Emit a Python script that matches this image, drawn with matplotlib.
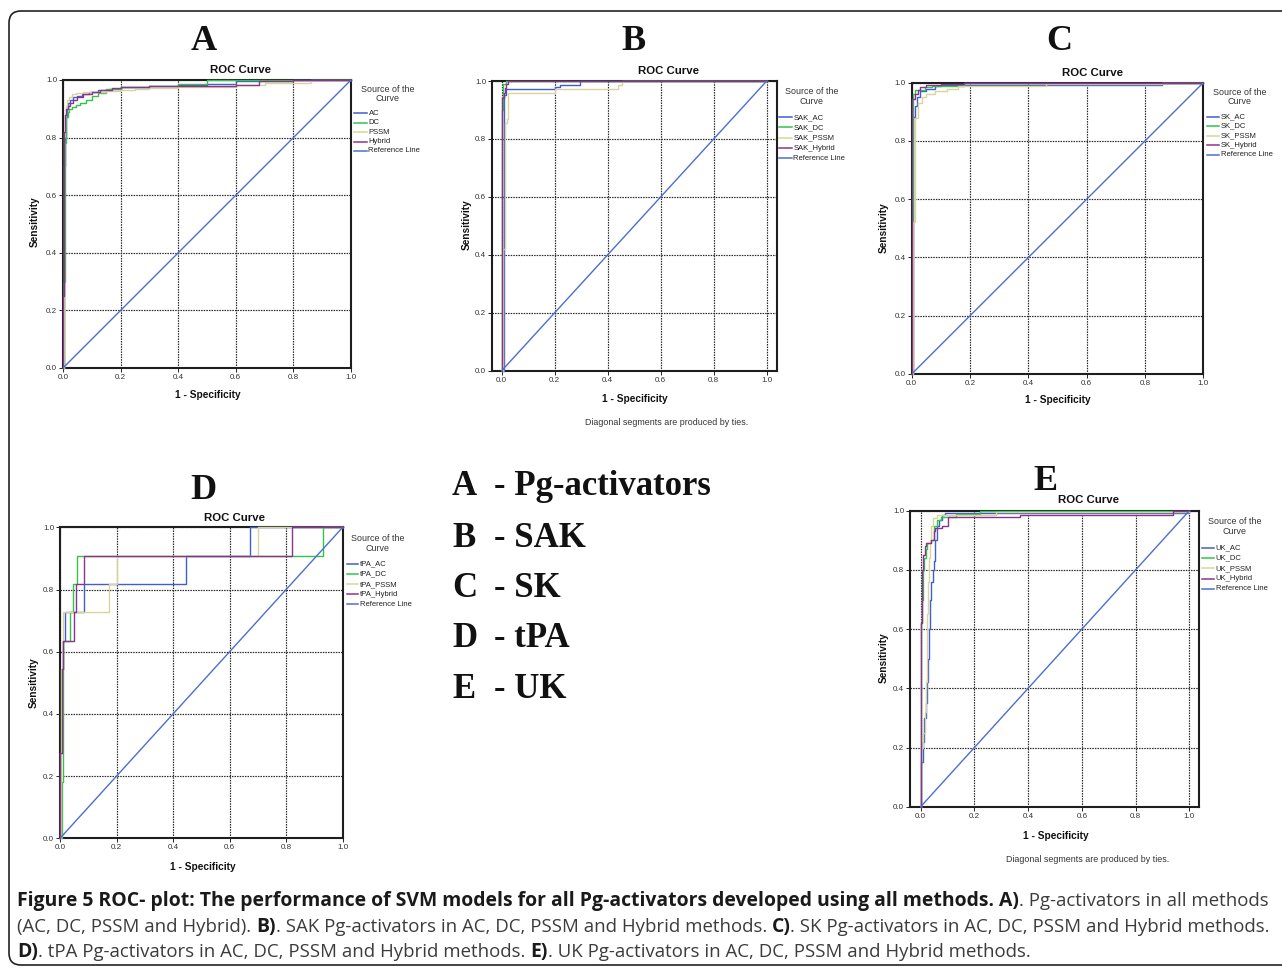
import matplotlib
matplotlib.use("Agg")
import numpy as np
import matplotlib.pyplot as plt
from matplotlib.patches import FancyBboxPatch
from matplotlib.lines import Line2D
from matplotlib.ticker import FormatStrFormatter

W, H, DPI = 1282, 969, 100

# ---------------- ROC operating points (1 - specificity, sensitivity) ----------------
# Panel A: all Pg-activators
a_ac_fpr = [0, 0.002, 0.004, 0.006, 0.009, 0.013, 0.019, 0.026, 0.035, 0.048, 0.065, 0.09, 0.12, 0.16, 0.2, 0.3, 0.4, 0.5, 0.6, 0.8, 1.0]
a_ac_tpr = [0, 0.35, 0.7, 0.8, 0.87, 0.9, 0.92, 0.93, 0.94, 0.945, 0.95, 0.957, 0.964, 0.97, 0.976, 0.979, 0.983, 0.987, 0.995, 1.0, 1.0]
a_dc_fpr = [0, 0.004, 0.007, 0.009, 0.012, 0.016, 0.022, 0.03, 0.045, 0.06, 0.08, 0.1, 0.12, 0.15, 0.2, 0.3, 0.4, 0.5, 1.0]
a_dc_tpr = [0, 0.3, 0.78, 0.83, 0.87, 0.89, 0.9, 0.905, 0.912, 0.92, 0.93, 0.945, 0.956, 0.968, 0.976, 0.98, 0.986, 1.0, 1.0]
a_pssm_fpr = [0, 0.002, 0.004, 0.006, 0.009, 0.013, 0.02, 0.03, 0.045, 0.07, 0.1, 0.15, 0.2, 0.25, 0.3, 0.4, 0.6, 0.7, 0.86, 1.0]
a_pssm_tpr = [0, 0.5, 0.82, 0.88, 0.91, 0.93, 0.94, 0.95, 0.955, 0.958, 0.96, 0.962, 0.965, 0.968, 0.973, 0.977, 0.982, 0.99, 1.0, 1.0]
a_hyb_fpr = [0, 0.001, 0.003, 0.005, 0.008, 0.012, 0.018, 0.026, 0.036, 0.05, 0.07, 0.1, 0.13, 0.17, 0.2, 0.3, 0.45, 0.6, 0.68, 0.8, 1.0]
a_hyb_tpr = [0, 0.25, 0.6, 0.82, 0.88, 0.9, 0.91, 0.92, 0.93, 0.94, 0.95, 0.96, 0.965, 0.972, 0.975, 0.978, 0.98, 0.982, 0.995, 1.0, 1.0]

# Panel B: SAK
b_ac_fpr = [0, 0.007, 0.01, 0.017, 0.2, 0.22, 0.295, 1.0]
b_ac_tpr = [0, 0.9, 0.95, 0.972, 0.98, 0.986, 1.0, 1.0]
b_dc_fpr = [0, 0.001, 0.004, 0.015, 1.0]
b_dc_tpr = [0, 0.9, 0.99, 1.0, 1.0]
b_pssm_fpr = [0, 0.006, 0.013, 0.02, 0.025, 0.2, 0.44, 0.455, 1.0]
b_pssm_tpr = [0, 0.42, 0.855, 0.87, 0.96, 0.972, 0.985, 1.0, 1.0]
b_hyb_fpr = [0, 0.003, 0.008, 0.012, 0.018, 0.025, 1.0]
b_hyb_tpr = [0, 0.94, 0.96, 0.975, 0.99, 1.0, 1.0]

# Panel C: SK
c_ac_fpr = [0, 0.003, 0.006, 0.012, 0.018, 0.03, 0.05, 0.08, 0.1, 0.857, 1.0]
c_ac_tpr = [0, 0.694, 0.883, 0.92, 0.95, 0.97, 0.98, 0.99, 0.993, 1.0, 1.0]
c_dc_fpr = [0, 0.005, 0.01, 0.046, 0.07, 0.18, 1.0]
c_dc_tpr = [0, 0.96, 0.976, 0.984, 0.99, 1.0, 1.0]
c_pssm_fpr = [0, 0.006, 0.013, 0.02, 0.035, 0.05, 0.08, 0.12, 0.16, 0.46, 0.86, 1.0]
c_pssm_tpr = [0, 0.523, 0.88, 0.93, 0.95, 0.96, 0.97, 0.98, 0.99, 0.995, 1.0, 1.0]
c_hyb_fpr = [0, 0.002, 0.012, 0.02, 0.03, 0.05, 0.1, 0.18, 1.0]
c_hyb_tpr = [0, 0.943, 0.96, 0.975, 0.985, 0.993, 0.997, 1.0, 1.0]

# Panel D: tPA
d_ac_fpr = [0, 0.0, 0.006, 0.012, 0.018, 0.086, 0.444, 0.672, 1.0]
d_ac_tpr = [0, 0.273, 0.545, 0.636, 0.727, 0.818, 0.909, 1.0, 1.0]
d_dc_fpr = [0, 0.006, 0.006, 0.009, 0.035, 0.045, 0.061, 0.929, 1.0]
d_dc_tpr = [0, 0.091, 0.182, 0.636, 0.727, 0.818, 0.909, 1.0, 1.0]
d_pssm_fpr = [0, 0.003, 0.009, 0.012, 0.175, 0.2, 0.702, 1.0]
d_pssm_tpr = [0, 0.545, 0.636, 0.727, 0.818, 0.909, 1.0, 1.0]
d_hyb_fpr = [0, 0.0, 0.008, 0.012, 0.051, 0.056, 0.086, 0.82, 1.0]
d_hyb_tpr = [0, 0.273, 0.545, 0.636, 0.727, 0.818, 0.909, 1.0, 1.0]

# Panel E: UK
e_ac_fpr = [0, 0.002, 0.008, 0.012, 0.018, 0.023, 0.027, 0.031, 0.035, 0.039, 0.044, 0.048, 0.055, 0.06, 0.07, 0.08, 0.09, 1.0]
e_ac_tpr = [0, 0.15, 0.22, 0.3, 0.35, 0.42, 0.5, 0.6, 0.7, 0.76, 0.8, 0.83, 0.9, 0.95, 0.97, 0.985, 0.993, 1.0]
e_dc_fpr = [0, 0.0, 0.004, 0.008, 0.012, 0.018, 0.025, 0.04, 0.05, 0.06, 0.075, 0.13, 0.22, 1.0]
e_dc_tpr = [0, 0.62, 0.7, 0.8, 0.84, 0.87, 0.89, 0.9, 0.95, 0.97, 0.98, 0.99, 1.0, 1.0]
e_pssm_fpr = [0, 0.003, 0.01, 0.015, 0.019, 0.022, 0.025, 0.028, 0.031, 0.035, 0.04, 0.046, 0.06, 0.28, 1.0]
e_pssm_tpr = [0, 0.2, 0.25, 0.32, 0.42, 0.55, 0.65, 0.76, 0.84, 0.9, 0.95, 0.975, 0.985, 0.995, 1.0]
e_hyb_fpr = [0, 0.002, 0.006, 0.01, 0.015, 0.02, 0.04, 0.05, 0.055, 0.08, 0.1, 0.37, 0.94, 1.0]
e_hyb_tpr = [0, 0.62, 0.8, 0.85, 0.88, 0.89, 0.9, 0.93, 0.94, 0.95, 0.98, 0.985, 1.0, 1.0]

ref_line = [0.0, 1.0]
axis_ticks = [0.0, 0.2, 0.4, 0.6, 0.8, 1.0]

panel_letters = ["A", "B", "C", "D", "E"]
legend_prefixes = ["", "SAK_", "SK_", "tPA_", "UK_"]
method_names = ["AC", "DC", "PSSM", "Hybrid"]
key_letters = ["A", "B", "C", "D", "E"]
key_names = ["- Pg-activators", "- SAK", "- SK", "- tPA", "- UK"]

caption_lines = [
    [("Figure 5 ROC- plot: The performance of SVM models for all Pg-activators developed using all methods. A)", True),
     (". Pg-activators in all methods", False)],
    [("(AC, DC, PSSM and Hybrid). ", False), ("B)", True),
     (". SAK Pg-activators in AC, DC, PSSM and Hybrid methods. ", False), ("C)", True),
     (". SK Pg-activators in AC, DC, PSSM and Hybrid methods.", False)],
    [("D)", True), (". tPA Pg-activators in AC, DC, PSSM and Hybrid methods. ", False), ("E)", True),
     (". UK Pg-activators in AC, DC, PSSM and Hybrid methods.", False)],
]

# ---------------- styling ----------------
COLORS = ["#3f5fcc", "#33c24a", "#d9d49c", "#8c348c"]
REF_COLOR = "#4b6fcf"
SANS = ["Liberation Sans", "DejaVu Sans"]
SERIF = ["Liberation Serif", "DejaVu Serif"]

fig = plt.figure(figsize=(W / DPI, H / DPI), dpi=DPI)
fig.patch.set_facecolor("white")


def fxy(x, y):
    return x / W, 1 - y / H


def ptext(x, y, s, **kw):
    fx, fy = fxy(x, y)
    return fig.text(fx, fy, s, **kw)


def panel(idx, frame, xlim, series, title_xy, letter_xy, xlabel_xy, ylabel_xy, leg, note_xy=None):
    left, top, right, bottom = frame
    ax = fig.add_axes([left / W, 1 - bottom / H, (right - left) / W, (bottom - top) / H])
    ax.set_xlim(*xlim)
    ax.set_ylim(0, 1)
    for (fpr, tpr), col in zip(series, COLORS):
        ax.plot(fpr, tpr, drawstyle="steps-post", color=col, lw=1.0, zorder=3, clip_on=False)
    ax.plot(ref_line, ref_line, color=REF_COLOR, lw=1.0, zorder=3)
    ax.set_xticks(axis_ticks)
    ax.set_yticks(axis_ticks)
    ax.xaxis.set_major_formatter(FormatStrFormatter("%.1f"))
    ax.yaxis.set_major_formatter(FormatStrFormatter("%.1f"))
    ax.grid(True, color="#2a2a2a", ls=(0, (1.3, 0.9)), lw=0.85, zorder=1)
    for sp in ax.spines.values():
        sp.set_linewidth(1.5)
        sp.set_color("#1e1e1e")
        sp.set_zorder(2.5)
    ax.tick_params(labelsize=5.8, length=3, width=0.7, pad=1.2, colors="#222222", labelcolor="#333333")
    for lab in ax.get_xticklabels() + ax.get_yticklabels():
        lab.set_family(SANS)

    ptext(*title_xy, "ROC Curve", ha="center", va="center", fontsize=8.2, fontweight="bold", family=SANS, color="#111111")
    ptext(*letter_xy, panel_letters[idx], ha="center", va="center", fontsize=26, fontweight="bold", family=SERIF, color="#111111")
    ptext(*xlabel_xy, "1 - Specificity", ha="center", va="center", fontsize=7.3, fontweight="bold", family=SANS, color="#111111")
    ptext(*ylabel_xy, "Sensitivity", ha="center", va="center", rotation=90, fontsize=7.3, fontweight="bold", family=SANS, color="#111111")
    if note_xy is not None:
        ptext(*note_xy, "Diagonal segments are produced by ties.", ha="center", va="center", fontsize=6.4, family=SANS, color="#333333")

    # legend block
    (cx, head_y, head_gap), (lx0, lx1, tx), ys = leg
    ptext(cx, head_y, "Source of the", ha="center", va="center", fontsize=6.4, family=SANS, color="#333333")
    ptext(cx, head_y + head_gap, "Curve", ha="center", va="center", fontsize=6.4, family=SANS, color="#333333")
    labels = [legend_prefixes[idx] + m for m in method_names] + ["Reference Line"]
    for lab, col, y in zip(labels, COLORS + [REF_COLOR], ys):
        x0f, yf = fxy(lx0, y)
        x1f, _ = fxy(lx1, y)
        fig.add_artist(Line2D([x0f, x1f], [yf, yf], color=col, lw=1.1, transform=fig.transFigure))
        ptext(tx, y, lab, ha="left", va="center", fontsize=5.5, family=SANS, color="#222222")
    return ax


series_a = [(a_ac_fpr, a_ac_tpr), (a_dc_fpr, a_dc_tpr), (a_pssm_fpr, a_pssm_tpr), (a_hyb_fpr, a_hyb_tpr)]
series_b = [(b_ac_fpr, b_ac_tpr), (b_dc_fpr, b_dc_tpr), (b_pssm_fpr, b_pssm_tpr), (b_hyb_fpr, b_hyb_tpr)]
series_c = [(c_ac_fpr, c_ac_tpr), (c_dc_fpr, c_dc_tpr), (c_pssm_fpr, c_pssm_tpr), (c_hyb_fpr, c_hyb_tpr)]
series_d = [(d_ac_fpr, d_ac_tpr), (d_dc_fpr, d_dc_tpr), (d_pssm_fpr, d_pssm_tpr), (d_hyb_fpr, d_hyb_tpr)]
series_e = [(e_ac_fpr, e_ac_tpr), (e_dc_fpr, e_dc_tpr), (e_pssm_fpr, e_pssm_tpr), (e_hyb_fpr, e_hyb_tpr)]

panel(0, (63, 80, 351, 368), (0, 1), series_a, (241, 70), (204, 41), (208, 395), (35, 222),
      ((387.5, 89.3, 9.0), (354.3, 366.7, 368.5), [113.3, 122.7, 132.3, 141.7, 151.0]))
panel(1, (492, 81, 776.7, 370.7), (-0.0366, 1.0377), series_b, (668, 71), (633, 41), (635, 399.5), (467, 225),
      ((811.7, 91.7, 10.0), (779.3, 791.7, 793.3), [117.3, 127.3, 137.7, 148.0, 158.0]), note_xy=(667, 423))
panel(2, (911.7, 82.7, 1203.3, 374), (0, 1), series_c, (1092, 73), (1059, 41), (1058, 400), (884, 227.5),
      ((1239.5, 92.7, 9.0), (1206.7, 1219.3, 1220.7), [116.7, 126.0, 136.0, 145.3, 155.0]))
panel(3, (60, 527.3, 342.7, 838.3), (0, 1), series_d, (235, 517.7), (203, 490.5), (202.5, 866.5), (33.5, 682.5),
      ((378, 538.3, 10.0), (346.7, 358.3, 359.5), [564.0, 574.0, 584.3, 594.3, 604.3]))
panel(4, (910, 510.7, 1199.3, 806.7), (-0.0398, 1.0372), series_e, (1089, 500), (1046, 481.5), (1055.7, 836), (884, 658),
      ((1234.3, 521.7, 10.0), (1201.7, 1214, 1215.5), [547.7, 558.0, 568.3, 578.7, 589.0]), note_xy=(1088, 859.5))

# key listing the panels
key_baselines = [495, 547, 597, 647, 698]
for letter, name, yb in zip(key_letters, key_names, key_baselines):
    ptext(452, yb, letter, ha="left", va="baseline", fontsize=25, fontweight="bold", family=SERIF, color="#111111")
    ptext(494, yb, name, ha="left", va="baseline", fontsize=25, fontweight="bold", family=SERIF, color="#111111")

# caption with bold/regular runs
renderer = fig.canvas.get_renderer()
CAP_FONT = ["Open Sans", "DejaVu Sans"]


def run_width(s, size, bold):
    weight = "bold" if bold else "normal"
    t = fig.text(0, 0, s.rstrip(" "), fontsize=size, fontweight=weight, family=CAP_FONT)
    w = t.get_window_extent(renderer).width
    t.remove()
    n_sp = len(s) - len(s.rstrip(" "))
    if n_sp:
        a = fig.text(0, 0, "n n", fontsize=size, fontweight=weight, family=CAP_FONT)
        b = fig.text(0, 0, "nn", fontsize=size, fontweight=weight, family=CAP_FONT)
        w += n_sp * (a.get_window_extent(renderer).width - b.get_window_extent(renderer).width)
        a.remove()
        b.remove()
    return w


# pick bold and regular sizes so the three lines span the caption width
base = 12.0
line_ends = [1262, 1277, 1010]
start_x = 17.0
A = np.array([[sum(run_width(s, base, True) for s, b in ln if b),
               sum(run_width(s, base, False) for s, b in ln if not b)] for ln in caption_lines])
targets = np.array(line_ends) - start_x
kb, kr = np.linalg.lstsq(A, targets, rcond=None)[0]
size_bold, size_reg = base * kb, base * kr

cap_baselines = [906, 932, 957]
for runs, yb in zip(caption_lines, cap_baselines):
    x = start_x
    for s, bold in runs:
        size = size_bold if bold else size_reg
        ptext(x, yb, s, ha="left", va="baseline", fontsize=size,
              fontweight="bold" if bold else "normal", family=CAP_FONT,
              color="#1a1a1a" if bold else "#3c3c3c")
        x += run_width(s, size, bold)

# rounded outer frame
border = FancyBboxPatch((9 / DPI, (H - 965) / DPI), (1300 - 9) / DPI, (965 - 11) / DPI,
                        boxstyle="round,pad=0,rounding_size=0.12", transform=fig.dpi_scale_trans,
                        fill=False, ec="#222222", lw=1.2, clip_on=False)
fig.add_artist(border)

fig.savefig("out.png", dpi=DPI, facecolor="white")
